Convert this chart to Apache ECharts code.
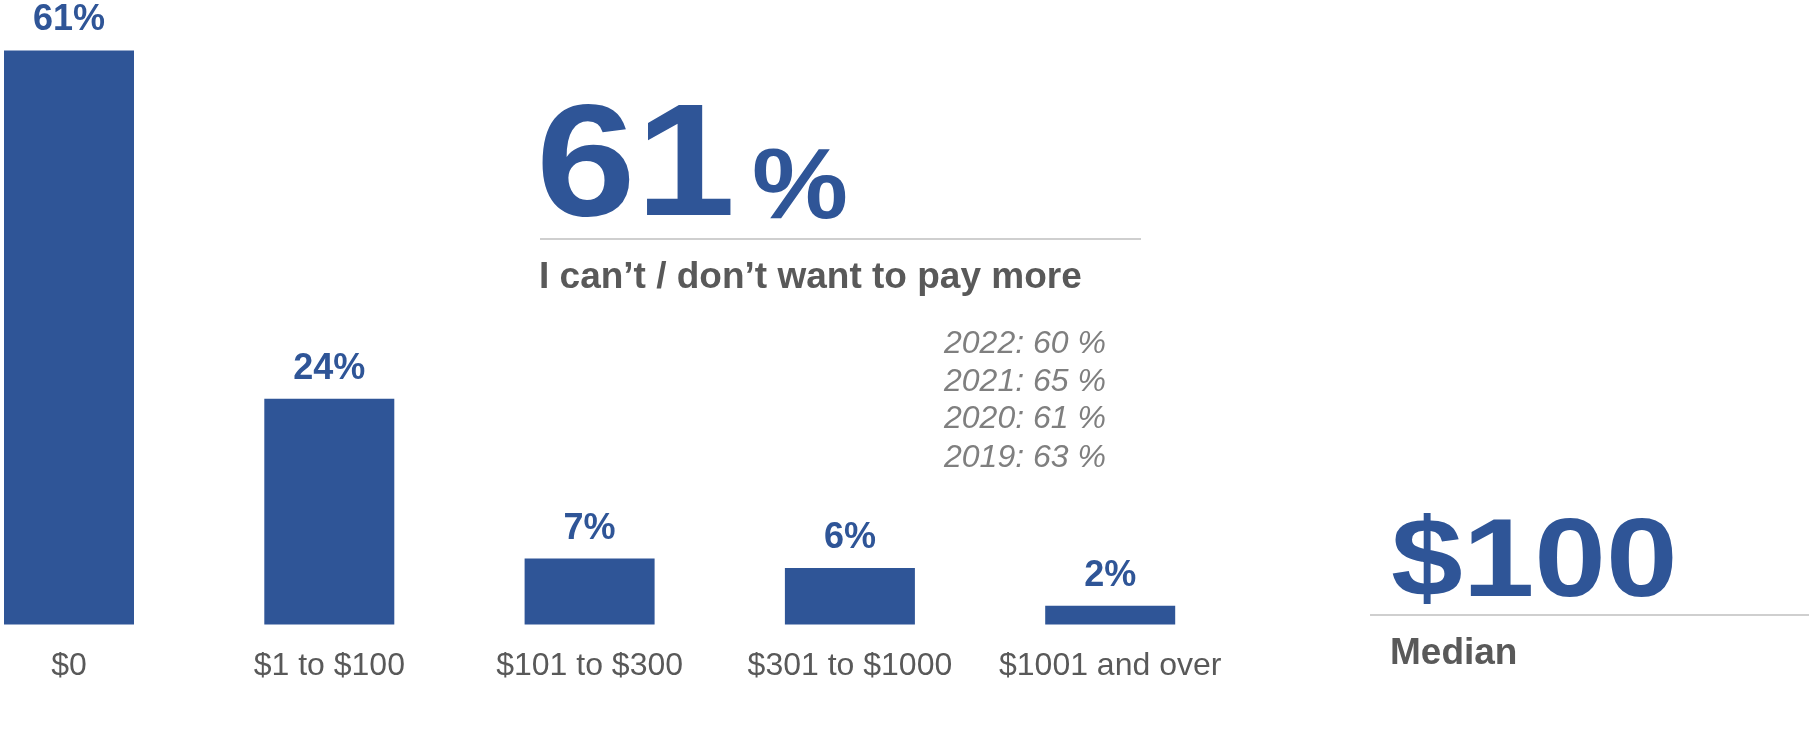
<!DOCTYPE html>
<html>
<head>
<meta charset="utf-8">
<script src="https://cdn.jsdelivr.net/npm/echarts@6/dist/echarts.min.js"></script>
<style>html,body{margin:0;padding:0;background:#fff;}#c{width:1809px;height:730px;}</style>
</head>
<body>
<div id="c"></div>
<script>
const categories = ['$0', '$1 to $100', '$101 to $300', '$301 to $1000', '$1001 and over'];
const values = [61, 24, 7, 6, 2];
const headlineValue = '61';
const headlineUnit = '%';
const headlineCaption = 'I can\u2019t / don\u2019t want to pay more';
const pastYears = ['2022: 60 %', '2021: 65 %', '2020: 61 %', '2019: 63 %'];
const medianValue = '$100';
const medianCaption = 'Median';

const BLUE = '#2F5597';
const GRAY = '#595959';
const FONT = '"Liberation Sans", Arial, sans-serif';

const chart = echarts.init(document.getElementById('c'));

const graphics = [
  { type: 'text', x: 536, y: 171, scaleX: 1.12, style: { x: 0, y: 0, text: headlineValue, font: 'bold 160px ' + FONT, fill: BLUE, verticalAlign: 'middle' } },
  { type: 'text', x: 752, y: 190, scaleX: 1.08, style: { x: 0, y: 0, text: headlineUnit, font: 'bold 100px ' + FONT, fill: BLUE, verticalAlign: 'middle' } },
  { type: 'line', shape: { x1: 540, y1: 239, x2: 1141, y2: 239 }, style: { stroke: '#BFBFBF', lineWidth: 1.5 } },
  { type: 'text', style: { x: 539, y: 278, text: headlineCaption, font: 'bold 37px ' + FONT, fill: GRAY, verticalAlign: 'middle' } },
  { type: 'text', x: 1391, y: 565, scaleX: 1.15, style: { x: 0, y: 0, text: medianValue, font: 'bold 112px ' + FONT, fill: BLUE, verticalAlign: 'middle' } },
  { type: 'line', shape: { x1: 1370, y1: 615, x2: 1809, y2: 615 }, style: { stroke: '#BFBFBF', lineWidth: 1.5 } },
  { type: 'text', style: { x: 1390, y: 654, text: medianCaption, font: 'bold 37px ' + FONT, fill: GRAY, verticalAlign: 'middle' } }
];
const yearBase = [344.5, 382.5, 419.5, 458.5];
pastYears.forEach((t, i) => {
  graphics.push({ type: 'text', style: { x: 944, y: yearBase[i], text: t, font: 'italic 32px ' + FONT, fill: '#7F7F7F', verticalAlign: 'middle' } });
});

chart.setOption({
  animation: false,
  backgroundColor: '#ffffff',
  grid: { left: 69, width: 1041.2, top: 12.8, bottom: 105.5, containLabel: false },
  xAxis: {
    type: 'category',
    data: categories,
    boundaryGap: false,
    axisLine: { show: false },
    axisTick: { show: false },
    splitLine: { show: false },
    axisLabel: { fontSize: 32, color: GRAY, fontFamily: FONT, margin: 26, interval: 0 }
  },
  yAxis: { type: 'value', min: 0, max: 65, show: false, splitLine: { show: false } },
  series: [{
    type: 'bar',
    data: values,
    barWidth: 130,
    clip: false,
    itemStyle: { color: BLUE },
    label: {
      show: true, position: 'top', distance: 12,
      formatter: '{c}%', fontSize: 36, fontWeight: 'bold', color: BLUE, fontFamily: FONT
    }
  }],
  graphic: graphics
});
</script>
</body>
</html>
